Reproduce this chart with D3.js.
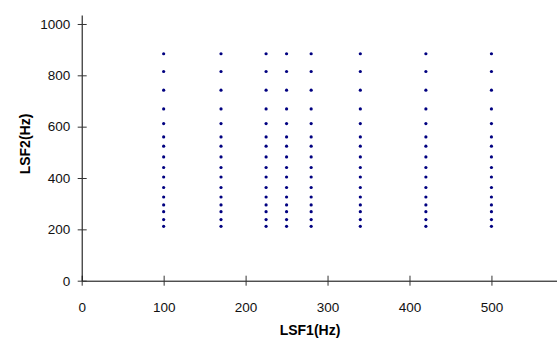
<!DOCTYPE html>
<html lang="en">
<head>
    <style>
        body { margin: 0; background: #fff; }
        svg { display: block; }
        text { font-family: "Liberation Sans", Arial, sans-serif; }
    </style>
</head>
<body>
    <svg width="557" height="343"></svg>
    <script src="https://cdn.jsdelivr.net/npm/d3@7"></script>
    <script>
        // LSF1 columns and LSF2 rows (Hz)
        const lsf1 = [100, 170, 225, 250, 280, 340, 420, 500];
        const lsf2 = [212, 238, 269, 295, 326, 363, 404, 441, 482, 524, 560, 612, 669, 742, 815, 884];
        const xTicks = [0, 100, 200, 300, 400, 500];
        const yTicks = [0, 200, 400, 600, 800, 1000];

        const svg = d3.select("svg");

        // Scales
        const x = d3.scaleLinear().domain([0, 580]).range([81.7, 557]);
        const y = d3.scaleLinear().domain([0, 1035]).range([280.7, 15]);

        // Axes, ticks crossing the line like in the original
        const xAxis = svg.append("g").attr("transform", `translate(0, ${y(0)})`)
            .call(d3.axisBottom(x).tickValues(xTicks).tickFormat(d3.format("d")).tickSize(0).tickPadding(22));
        xAxis.select(".domain").attr("stroke", "#000");
        xAxis.selectAll(".tick").append("line").attr("y1", -5).attr("y2", 5).attr("stroke", "#333");
        xAxis.selectAll(".tick text").attr("font-size", 13.5).attr("fill", "#111")
            .attr("font-family", "Liberation Sans, Arial, sans-serif");

        const yAxis = svg.append("g").attr("transform", `translate(${x(0)}, 0)`)
            .call(d3.axisLeft(y).tickValues(yTicks).tickFormat(d3.format("d")).tickSize(0).tickPadding(11.5));
        yAxis.select(".domain").attr("stroke", "#000");
        yAxis.selectAll(".tick").append("line").attr("x1", -4).attr("x2", 5).attr("stroke", "#333");
        yAxis.selectAll(".tick text").attr("font-size", 13.5).attr("fill", "#111")
            .attr("font-family", "Liberation Sans, Arial, sans-serif");

        // Axis titles
        svg.append("text")
            .attr("x", 310).attr("y", 335)
            .attr("text-anchor", "middle")
            .attr("font-size", 14).attr("font-weight", "bold")
            .text("LSF1(Hz)");
        svg.append("text")
            .attr("transform", "translate(30, 144) rotate(-90)")
            .attr("text-anchor", "middle")
            .attr("font-size", 14).attr("font-weight", "bold")
            .text("LSF2(Hz)");

        // Grid of points
        const points = d3.cross(lsf1, lsf2);
        svg.append("g").selectAll("circle").data(points)
            .enter().append("circle")
            .attr("cx", d => x(d[0]))
            .attr("cy", d => y(d[1]))
            .attr("r", 1.6)
            .attr("fill", "#000080");
    </script>
</body>
</html>
